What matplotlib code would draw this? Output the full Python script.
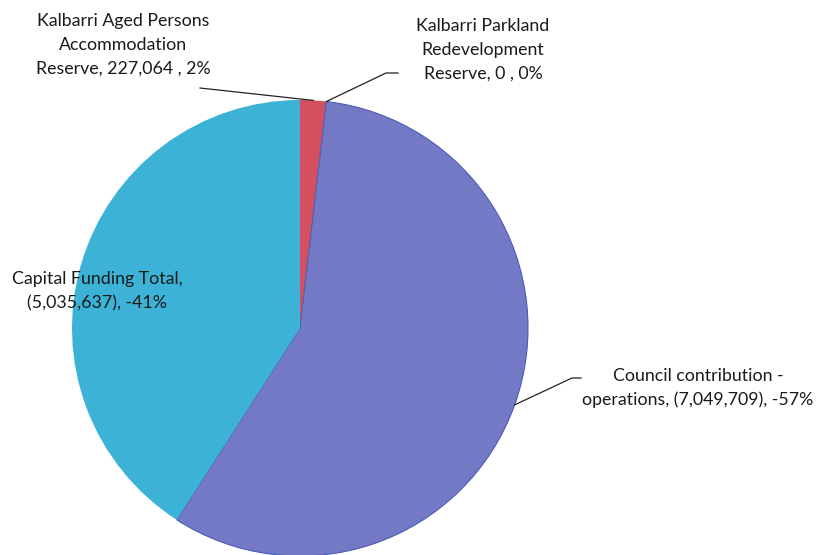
import textwrap
import numpy as np
import matplotlib
matplotlib.use("Agg")
import matplotlib.pyplot as plt

# Funding sources (negative = outflow, shown in brackets)
names = [
    "Kalbarri Aged Persons Accommodation Reserve",
    "Kalbarri Parkland Redevelopment Reserve",
    "Council contribution - operations",
    "Capital Funding Total",
]
values = [227064, 0, -7049709, -5035637]
colors = ["#d4505f", "#d4505f", "#7479c6", "#3cb3d6"]
wrap_widths = [21, 18, 29, 22]

plt.rcParams["font.family"] = ["Lato", "DejaVu Sans"]

W, H = 825, 555
fig = plt.figure(figsize=(W / 100, H / 100), dpi=100)
ax = fig.add_axes([0, 0, 1, 1])

sizes = np.abs(values)
total = sizes.sum()
cx, cy, r = 300, H - 328, 228

wedges, _ = ax.pie(sizes, colors=colors, startangle=90, counterclock=False,
                   center=(cx, cy), radius=r,
                   wedgeprops=dict(linewidth=0))
wedges[2].set_edgecolor("#4a5cb8")
wedges[2].set_linewidth(0.8)


def fmt_value(v):
    if v < 0:
        return f"({-v:,})"
    return f"{v:,} "


labels = []
for name, v, s, w in zip(names, values, sizes, wrap_widths):
    pct = np.sign(v) * s / total * 100
    text = f"{name}, {fmt_value(v)}, {pct:.0f}%"
    labels.append(textwrap.fill(text, w, break_on_hyphens=False))

# label centres and leader-line elbows (pixels from top-left)
label_pos = [(123, 45), (483, 50), (698, 388), (97, 291)]
elbows = [None, (386, 73), (572, 378), None]
line_ends = [(200, 88), (398, 73), (581, 378), None]

for i, (wedge, lab) in enumerate(zip(wedges, labels)):
    x, y = label_pos[i]
    ax.text(x, H - y, lab, ha="center", va="center", fontsize=12.8,
            linespacing=1.62, color="#1a1a1a")
    if line_ends[i] is None:
        continue
    mid = np.deg2rad((wedge.theta1 + wedge.theta2) / 2)
    px, py = cx + r * np.cos(mid), cy + r * np.sin(mid)
    pts = [(px, py)]
    if elbows[i] is not None:
        pts.append((elbows[i][0], H - elbows[i][1]))
    pts.append((line_ends[i][0], H - line_ends[i][1]))
    xs, ys = zip(*pts)
    ax.plot(xs, ys, color="#222222", linewidth=0.9)

ax.set_xlim(0, W)
ax.set_ylim(0, H)
ax.set_aspect("equal")
ax.axis("off")

fig.savefig("out.png", dpi=100)
